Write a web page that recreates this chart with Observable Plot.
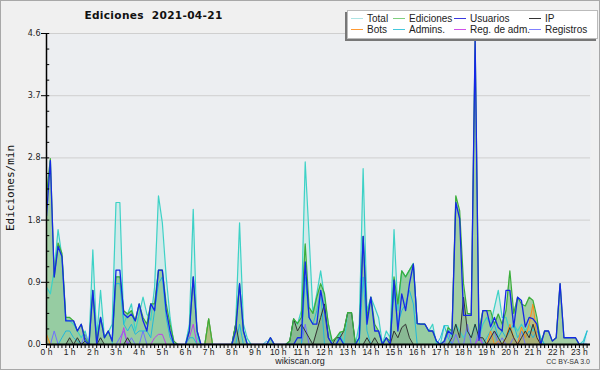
<!DOCTYPE html>
<html><head><meta charset="utf-8">
<script src="https://cdn.jsdelivr.net/npm/d3@7"></script>
<script src="https://cdn.jsdelivr.net/npm/@observablehq/plot@0.6"></script>
<style>
html,body{margin:0;padding:0;background:#f0f0f0;}
#wrap{position:relative;width:600px;height:370px;overflow:hidden;font-family:"DejaVu Sans",sans-serif;}
#frame{position:absolute;left:0;top:0;width:598px;height:368px;border:1px solid #a8a8a8;pointer-events:none;}
#title{position:absolute;left:0;width:307px;top:9px;text-align:center;font-weight:bold;font-size:10.6px;color:#111;letter-spacing:0.3px;}
#ylab{position:absolute;left:10px;top:188px;transform:translate(-50%,-50%) rotate(-90deg);font-size:11px;color:#111;white-space:nowrap;font-family:"DejaVu Sans Mono",monospace;}
#legend{position:absolute;left:347px;top:10px;width:249px;height:27px;background:#fff;border:1px solid #bbb;box-shadow:-2px 2px 0 #777;font-size:10px;font-family:"Liberation Sans",sans-serif;}
.li{position:absolute;white-space:nowrap;color:#222;line-height:10px;}
.sw{display:inline-block;width:12px;height:0;border-top:1px solid;vertical-align:middle;margin-right:4px;position:relative;top:-1px;}
#foot{position:absolute;left:0;width:600px;top:356px;text-align:center;font-size:9px;line-height:10px;font-family:"Liberation Sans",sans-serif;color:#222;}
#cc{position:absolute;right:10px;top:358px;font-size:7px;line-height:8px;font-family:"Liberation Sans",sans-serif;color:#333;white-space:nowrap;}
</style></head>
<body><div id="wrap"></div>
<script>
// 10-minute samples, 00:00 .. 23:20
const total = [
0.85,0.75,1.1,1.7,1.3,0.36, 0.35,0.3,0.2,0.1,0.2,0, 1.4,0.1,0.8,0.1,0.18,0.3, 2.1,2.1,0.3,0.45,0.6,0.2,
0.45,0.7,0.45,0.36,0.85,2.2, 1.8,1.0,0.4,0,0,0, 0,0.3,2.0,0.1,0,0, 0.38,0,0,0,0,0,
0,0.3,1.8,0.3,0.09,0, 0,0,0,0,0.1,0, 0,0,0,0.05,0.38,0.3, 0.5,2.7,1.6,0.46,0.75,1.09,
0.7,0.3,0,0,0.18,0, 0.47,0.47,0,0.3,2.6,0.5, 0.7,0.55,0.4,0,0.2,0.1, 1.7,0.5,1.09,1.0,1.1,1.2,
0.31,0.3,0.3,0.2,0.3,0, 0,0.28,0.28,0.1,0.3,0.2, 0.1,0.2,0.1,0.3,0.1,0.3, 0.4,0.3,0.55,0.8,0.4,0.4,
0.2,0.3,0.2,0.3,0.2,0.3, 0.2,0.3,0.1,0,0,0, 0,0,0,0,0,0, 0,0.05,0.2];
const ediciones = [
2.2,2.75,1.0,1.5,1.35,0.4, 0.4,0.35,0.2,0.3,0.1,0, 0.8,0.05,0.4,0.1,0.2,0.05, 1.0,1.0,0.5,0.45,0.5,0.35,
0.6,0.4,0.3,0.6,0.6,1.1, 1.1,0.6,0.3,0.05,0,0, 0,0.2,1.0,0.2,0,0, 0.38,0,0,0,0,0,
0,0.3,0.9,0.2,0,0, 0,0,0,0,0.1,0, 0,0,0,0.05,0.38,0.31, 0.4,1.49,0.55,0.46,0.7,0.9,
0.75,0.3,0.05,0.1,0.18,0.2, 0.47,0.47,0,0.1,1.6,0.4, 0.7,0.3,0.2,0,0.1,0.05, 1.0,0.6,1.09,1.0,1.1,1.19,
0.31,0.3,0.3,0.2,0.2,0.05, 0,0.05,0.25,0.2,2.2,1.98, 0.9,0.46,0.45,4.5,0.2,0.5, 0.5,0.5,0.3,0.45,0.3,0.5,
1.09,0.46,0.7,0.6,0.57,0.7, 0.65,0.4,0,0.2,0.2,0.05, 0.1,0.9,0.1,0.1,0.1,0.1, 0,0,0];
const usuarios = [
1.9,2.72,1.0,1.45,1.3,0.35, 0.35,0.35,0.2,0.3,0.05,0, 0.8,0,0.4,0.1,0.2,0.05, 1.1,1.1,0.45,0.4,0.45,0.35,
0.6,0.35,0.2,0.6,0.5,1.1, 1.1,0.5,0.2,0,0,0, 0,0.2,1.0,0.2,0,0, 0,0,0,0,0,0,
0,0.2,0.9,0.2,0,0, 0,0,0,0,0.1,0, 0,0,0,0,0,0.1, 0.1,1.22,0.4,0.3,0.3,0.8,
0.5,0.1,0,0,0.1,0, 0,0,0,0.1,1.6,0.3, 0.7,0.2,0.2,0,0.1,0, 0.95,0.2,0.75,0.5,0.9,1.19,
0.31,0.3,0.3,0.2,0.2,0.05, 0,0.05,0.2,0.15,2.1,1.86, 0.43,0.43,0.43,4.5,0.06,0.5, 0.5,0.26,0.4,0.25,0.2,0.8,
0.8,0.26,0.7,0.65,0.26,0.4, 0.38,0.3,0,0.2,0.2,0.05, 0.1,0.9,0.1,0.1,0.1,0.1, 0,0,0];
const ip = [
0,0,0,0,0,0, 0.1,0,0.1,0,0.05,0, 0,0,0.1,0,0,0, 0,0,0,0.1,0,0,
0,0,0,0,0,0, 0,0,0,0,0,0, 0,0,0,0,0,0, 0,0,0,0,0,0,
0,0.3,0,0,0,0, 0,0,0,0,0,0, 0,0,0,0.05,0.38,0.2, 0.3,0.2,0.1,0,0.2,0.4,
0.6,0.1,0,0.1,0.1,0.2, 0.47,0.47,0,0,0,0.1, 0,0.1,0,0,0,0, 0.2,0.1,0.25,0.3,0.1,0,
0,0,0,0,0,0, 0,0,0,0.1,0.3,0.1, 0.7,0.2,0.1,0.3,0.1,0.1, 0,0.1,0.2,0.1,0,0.1,
0.25,0.1,0,0.1,0.2,0.1, 0.3,0.1,0,0,0,0, 0,0,0,0,0,0, 0,0,0];
const bots = [
0.15,0,0,0,0,0, 0,0,0,0,0,0, 0,0,0,0,0,0, 0,0,0,0,0,0,
0,0,0,0,0,0, 0,0,0,0,0,0, 0,0,0,0,0,0, 0.38,0,0,0,0,0,
0,0,0,0,0,0, 0,0,0,0,0,0, 0,0,0,0,0,0, 0,0,0,0,0,0,
0,0,0,0,0,0, 0,0,0,0,0,0, 0,0,0,0,0,0, 0,0,0,0,0,0,
0,0,0,0,0,0, 0,0,0,0,0,0, 0,0,0,0,0,0, 0,0.2,0,0.05,0,0.1,
0.3,0.1,0,0.26,0.1,0.3, 0.6,0.1,0,0,0,0, 0,0,0,0,0,0, 0,0,0];
const admins = [
0,0,0,0,0.1,0.2, 0.2,0.1,0.05,0,0,0, 0,0,0,0,0,0, 0.9,0.9,0.3,0.2,0.3,0.15,
0.2,0.2,0.2,0.1,0.5,0.9, 1.0,0.4,0.1,0,0,0, 0,0.1,0.1,0,0,0, 0,0,0,0,0,0,
0,0,0.3,0,0,0, 0,0,0,0.05,0,0, 0,0,0,0,0,0, 0,1.0,0.4,0.3,0.5,0.8,
0,0,0,0,0,0, 0,0,0,0,1.0,0.2, 0,0,0,0,0,0, 0.8,0.3,0.5,0.6,0.8,0.6,
0,0,0,0,0,0, 0.1,0.28,0.1,0,0,0, 0,0,0,0,0,0, 0.1,0.2,0.3,0.1,0.2,0.1,
0.2,0.3,0.1,0.2,0.1,0.2, 0.1,0.2,0.1,0,0,0, 0,0,0,0,0,0, 0,0,0.2];
const regAdm = [
0,0,0,0,0,0, 0,0,0,0,0,0, 0,0,0,0,0,0, 0,0,0.25,0,0,0,
0,0,0,0,0.1,0.15, 0.15,0,0,0,0,0, 0,0.1,0.3,0,0,0, 0,0,0,0,0,0,
0,0,0,0,0,0, 0,0,0,0,0,0, 0,0,0,0,0,0, 0,0,0,0,0,0,
0,0,0,0,0,0, 0,0,0,0,0,0, 0,0,0,0,0,0, 0,0,0,0,0,0,
0,0,0,0,0,0, 0,0,0,0,0,0, 0,0,0,0,0.1,0, 0,0,0,0,0,0,
0,0,0,0,0,0, 0,0,0,0,0,0, 0,0,0,0,0,0, 0,0,0];
const registros = [
0,0,0.2,0,0,0, 0,0,0,0,0.15,0, 0,0,0,0,0,0, 0,0.1,0.2,0,0.1,0,
0,0.2,0,0,0,0, 0,0,0,0,0,0, 0,0,0,0,0,0, 0,0,0,0,0,0,
0,0,0,0,0,0, 0,0,0,0,0,0, 0,0,0,0,0,0, 0,0.3,0,0,0,0,
0,0,0,0,0,0, 0,0,0,0,0,0, 0,0,0,0,0,0, 0,0,0,0,0,0,
0,0,0,0,0,0, 0,0,0.2,0,0.15,0, 0,0.3,0,0,0.2,0, 0,0.1,0.2,0,0.1,0,
0,0.1,0,0.2,0,0, 0,0,0,0,0,0, 0,0,0,0,0,0, 0,0,0];
const yTicks = [0, 0.92, 1.84, 2.76, 3.68, 4.6];
const hourTicks = d3.range(0, 24);
const legendItems = [
  ["Total","#aee4e4"],["Ediciones","#7fcf7f"],["Usuarios","#3838e0"],["IP","#333333"],
  ["Bots","#ff9a33"],["Admins.","#44c8dc"],["Reg. de adm.","#d050e8"],["Registros","#8080ff"]
];

const rows = total.map((v, i) => ({
  h: i / 6, total: v, ediciones: ediciones[i], usuarios: usuarios[i], ip: ip[i],
  bots: bots[i], admins: admins[i], regAdm: regAdm[i], registros: registros[i]
}));
const minorX = d3.range(0, 23.45, 1/6);
const minorY = d3.range(0, 4.61, 0.23);

const area = (key, fill, op) => Plot.areaY(rows, {x: "h", y1: 0, y2: key, fill, fillOpacity: op, clip: true});
const line = (key, stroke, w) => Plot.lineY(rows, {x: "h", y: key, stroke, strokeWidth: w, clip: true});

const chart = Plot.plot({
  width: 600, height: 370,
  marginLeft: 46, marginRight: 10, marginTop: 33, marginBottom: 26,
  style: {background: "transparent", fontFamily: "DejaVu Sans, sans-serif"},
  x: {domain: [0, 23.48], axis: null, label: null},
  y: {domain: [0, 4.6], axis: null, label: null},
  marks: [
    Plot.frame({fill: "#eceef1", stroke: null}),
    Plot.ruleY(yTicks.slice(1), {stroke: "#cfcfcf", strokeWidth: 1}),
    area("total", "#5fd8cc", 0.18),
    area("ediciones", "#5aae5a", 0.5),
    area("ip", "#333333", 0.12),
    area("bots", "#ff9922", 0.25),
    line("total", "#3dd2c6", 1.2),
    line("registros", "#7070ff", 1),
    line("regAdm", "#c040e8", 1),
    line("admins", "#22b8dc", 1),
    line("bots", "#ff8c1a", 1),
    line("ip", "#333333", 1),
    line("ediciones", "#3aae3a", 1.2),
    line("usuarios", "#1428e6", 1.3),
    Plot.ruleX([0], {stroke: "#000", strokeWidth: 1.5}),
    Plot.ruleY([0], {stroke: "#000", strokeWidth: 2}),
    Plot.ruleY(minorY, {x1: 0, x2: 0.14, stroke: "#000", strokeWidth: 1}),
    Plot.axisY(yTicks, {label: null, tickSize: 5, tickPadding: 1, tickFormat: d3.format(".1f"), fontSize: 8, stroke: "#000", color: "#222"}),
    Plot.axisX(minorX, {label: null, tickSize: 4, tickFormat: () => "", stroke: "#000"}),
    Plot.axisX(hourTicks, {label: null, tickSize: 0, tickPadding: 4, tickFormat: d => d + " h", fontSize: 8.5, fontFamily: "Liberation Sans, sans-serif", color: "#222"})
  ]
});

const wrap = document.getElementById("wrap");
wrap.appendChild(chart);
chart.style.position = "absolute"; chart.style.left = "0"; chart.style.top = "0";
const add = (html) => { const d = document.createElement("div"); d.innerHTML = html; wrap.appendChild(d.firstElementChild); };
add('<div id="title">Ediciones&nbsp; 2021-04-21</div>');
add('<div id="ylab">Ediciones/min</div>');
const lg = document.createElement("div"); lg.id = "legend"; wrap.appendChild(lg);
const colX = [3, 45, 106, 181];
legendItems.forEach(([name, c], i) => {
  const d = document.createElement("div"); d.className = "li";
  d.style.left = colX[i % 4] + "px"; d.style.top = (i < 4 ? 3 : 14) + "px";
  d.innerHTML = '<span class="sw" style="border-color:' + c + '"></span>' + name;
  lg.appendChild(d);
});
add('<div id="foot">wikiscan.org</div>');
add('<div id="cc">CC BY-SA 3.0</div>');
add('<div id="frame"></div>');
</script></body></html>
